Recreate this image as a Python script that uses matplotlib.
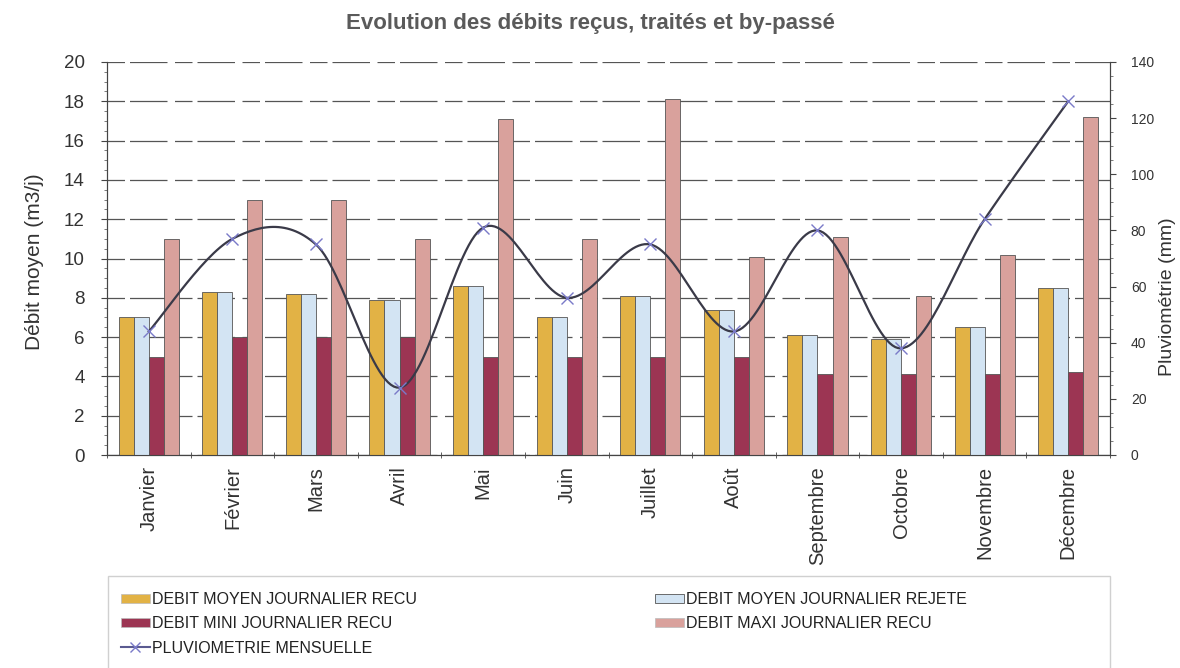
import numpy as np
import matplotlib
matplotlib.use("Agg")
from matplotlib import pyplot as plt
from matplotlib.lines import Line2D
from matplotlib.patches import Patch, Rectangle

plt.rcParams['font.family'] = ['Liberation Sans', 'DejaVu Sans']

mois = ['Janvier', 'Février', 'Mars', 'Avril', 'Mai', 'Juin', 'Juillet',
        'Août', 'Septembre', 'Octobre', 'Novembre', 'Décembre']
moyen_recu = [7.0, 8.3, 8.2, 7.9, 8.6, 7.0, 8.1, 7.4, 6.1, 5.9, 6.5, 8.5]
moyen_rejete = [7.0, 8.3, 8.2, 7.9, 8.6, 7.0, 8.1, 7.4, 6.1, 5.9, 6.5, 8.5]
mini_recu = [5.0, 6.0, 6.0, 6.0, 5.0, 5.0, 5.0, 5.0, 4.1, 4.1, 4.1, 4.2]
maxi_recu = [11.0, 13.0, 13.0, 11.0, 17.1, 11.0, 18.1, 10.1, 11.1, 8.1, 10.2, 17.2]
pluvio = [44, 77, 75, 24, 81, 56, 75, 44, 80, 38, 84, 126]


def smooth(x, y, n=30):
    # Bezier smoothing like the spreadsheet "smoothed line"
    p = np.column_stack([x, y]).astype(float)
    p = np.vstack([p[0], p, p[-1]])
    out = []
    t = np.linspace(0, 1, n)[:, None]
    for i in range(1, len(p) - 2):
        p0, p1, p2, p3 = p[i - 1], p[i], p[i + 1], p[i + 2]
        b1 = p1 + (p2 - p0) / 6
        b2 = p2 - (p3 - p1) / 6
        seg = ((1 - t) ** 3) * p1 + 3 * ((1 - t) ** 2) * t * b1 + 3 * (1 - t) * t ** 2 * b2 + t ** 3 * p2
        out.append(seg)
    out = np.vstack(out)
    return out[:, 0], out[:, 1]


W, H = 1180, 668
fig = plt.figure(figsize=(W / 100, H / 100), dpi=100)
ax = fig.add_axes([107 / W, 1 - 455 / H, (1110 - 107) / W, (455 - 62) / H])
ax2 = ax.twinx()

x = np.arange(len(mois))
w = 0.18
kw = dict(width=w, edgecolor='#555555', linewidth=0.6, zorder=3)
ax.bar(x - 1.5 * w, moyen_recu, color='#E2B245', **kw)
ax.bar(x - 0.5 * w, moyen_rejete, color='#D3E4F3', **kw)
ax.bar(x + 0.5 * w, mini_recu, color='#9C3553', **kw)
ax.bar(x + 1.5 * w, maxi_recu, color='#D9A19C', **kw)

ax.set_xlim(-0.5, len(mois) - 0.5)
ax.set_ylim(0, 20)
ax.set_yticks(range(0, 21, 2))
ax.set_yticks(np.arange(0, 20, 0.5), minor=True)
ax.grid(axis='y', color='#555555', linewidth=0.9, linestyle=(0, (14, 4, 30, 6)), zorder=0)
ax.set_axisbelow(True)

ax.set_xticks(x)
ax.set_xticklabels(mois, rotation=90, fontsize=14.5, color='#333333')
ax.set_xticks(np.arange(-0.5, len(mois), 1), minor=True)
ax.tick_params(axis='x', which='major', length=0, pad=8)
ax.tick_params(axis='x', which='minor', length=5, direction='inout', color='#444444')
ax.tick_params(axis='y', which='major', labelsize=13.5, labelcolor='#333333', length=4,
               pad=12, color='#444444')
ax.tick_params(axis='y', which='minor', length=2, color='#666666')

ax2.set_ylim(0, 140)
ax2.set_yticks(range(0, 141, 20))
ax2.set_yticks(np.arange(0, 140, 5), minor=True)
ax2.tick_params(axis='y', which='major', labelsize=10, labelcolor='#333333', length=4,
                pad=11, color='#444444')
ax2.tick_params(axis='y', which='minor', length=2, color='#666666')

sx, sy = smooth(x, pluvio)
ax2.plot(sx, sy, color='#3a3a48', linewidth=1.6, zorder=5)
ax2.plot(x, pluvio, linestyle='none', marker='x', markersize=9, markeredgewidth=1.0,
         color='#7a7ac8', zorder=6)

for a in (ax, ax2):
    a.spines['top'].set_visible(False)
    for s in ('left', 'right', 'bottom'):
        a.spines[s].set_color('#444444')

fig.text(35 / W, 1 - 262 / H, 'Débit moyen (m3/j)', rotation=90, ha='center', va='center',
         fontsize=15, color='#333333')
fig.text(1167 / W, 1 - 297 / H, 'Pluviométrie (mm)', rotation=90, ha='center', va='center',
         fontsize=14, color='#333333')

fig.text(590 / W, 1 - 23 / H, 'Evolution des débits reçus, traités et by-passé', ha='center',
         va='center', fontsize=16, fontweight='bold', color='#5a5a5a')

# legend box
fig.patches.append(Rectangle((108 / W, -0.01), (1110 - 108) / W, 0.01 + 1 - 576 / H,
                             transform=fig.transFigure, facecolor='none',
                             edgecolor='#d0d0d0', linewidth=1.0))

lkw = dict(loc='upper left', frameon=False, fontsize=11.5, handlelength=1.8, handleheight=0.55,
           handletextpad=0.15, labelspacing=0.58, borderpad=0, borderaxespad=0,
           labelcolor='#222222')
h1 = [
    Patch(facecolor='#E2B245', edgecolor='#bbbbbb', linewidth=0.5),
    Patch(facecolor='#9C3553', edgecolor='#bbbbbb', linewidth=0.5),
    Line2D([], [], color='#5a5a90', marker='x', markersize=7, markeredgecolor='#7a7ac8'),
]
l1 = ['DEBIT MOYEN JOURNALIER RECU', 'DEBIT MINI JOURNALIER RECU', 'PLUVIOMETRIE MENSUELLE']
h2 = [
    Patch(facecolor='#D3E4F3', edgecolor='#555555', linewidth=0.6),
    Patch(facecolor='#D9A19C', edgecolor='#bbbbbb', linewidth=0.5),
]
l2 = ['DEBIT MOYEN JOURNALIER REJETE', 'DEBIT MAXI JOURNALIER RECU']
fig.legend(h1, l1, bbox_to_anchor=(121 / W, 1 - 592 / H), **lkw)
fig.legend(h2, l2, bbox_to_anchor=(655 / W, 1 - 592 / H), **lkw)

fig.savefig('out.png', dpi=100)
